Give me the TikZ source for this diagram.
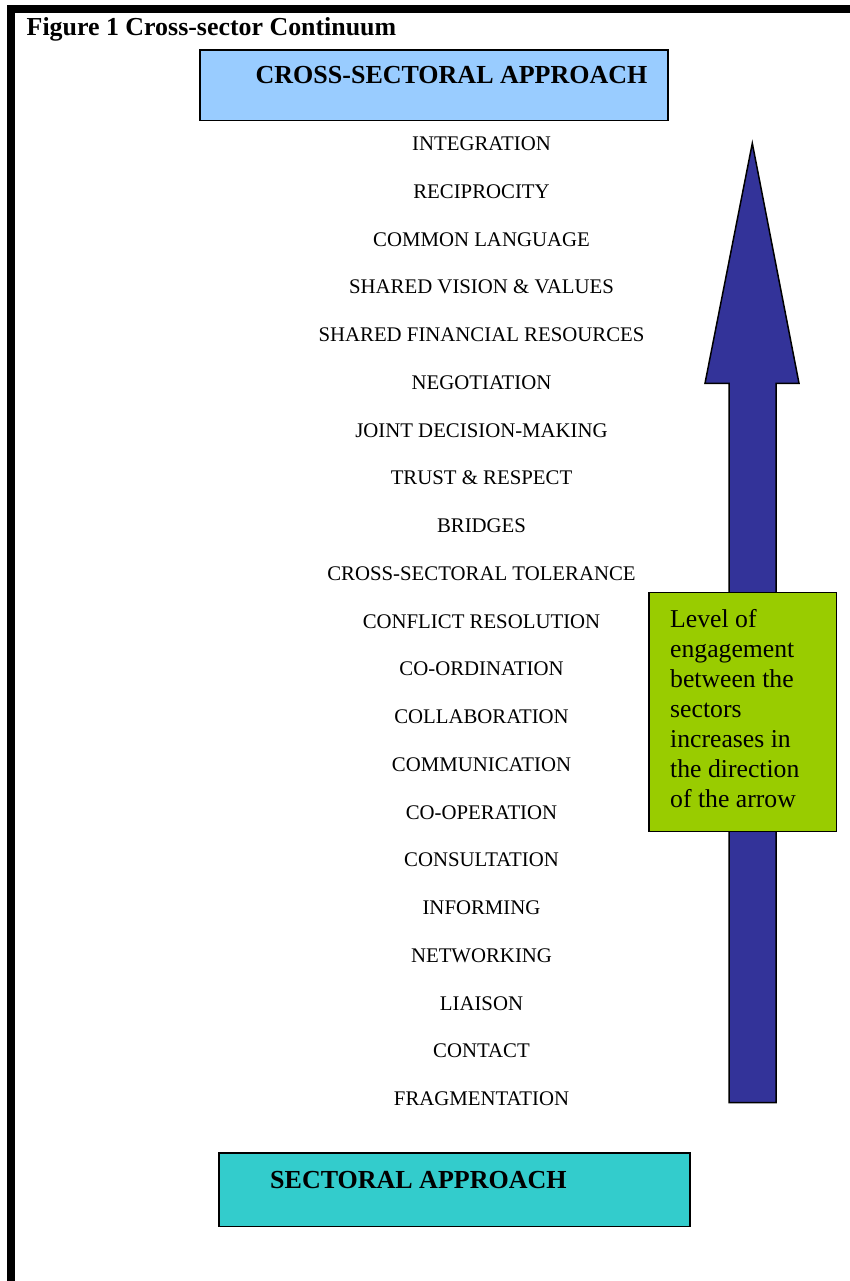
\documentclass[tikz,border=0pt]{standalone}
\usepackage{fontspec}
\setmainfont{Liberation Serif}
\definecolor{topblue}{HTML}{99CCFF}
\definecolor{arrowblue}{HTML}{333399}
\definecolor{notegreen}{HTML}{99CC00}
\definecolor{teal}{HTML}{33CCCC}
\tikzset{
  item/.style={anchor=base, inner sep=0pt, font=\fontsize{20.8}{24}\selectfont},
  heading/.style={anchor=base west, inner sep=0pt, font=\bfseries\fontsize{26}{30}\selectfont},
  boxframe/.style={draw=black, line width=1.5pt},
}
\begin{document}
\begin{tikzpicture}[x=1pt,y=-1pt]
\useasboundingbox (0,0) rectangle (850,1281);
% black frame
\fill[black] (7,5) rectangle (850,13);
\fill[black] (7,5) rectangle (15,1281);
% title
\node[anchor=base west, inner sep=0pt, font=\bfseries\fontsize{25.9}{30}\selectfont] (title) at (26.5,36) {Figure 1 Cross-sector Continuum};
% top box
\draw[boxframe, fill=topblue] (200,50) rectangle (668,120.5);
\node[heading] (top) at (255.5,84) {CROSS-SECTORAL APPROACH};
% bottom box
\draw[boxframe, fill=teal] (219,1153) rectangle (690,1226.5);
\node[heading] (bottom) at (270,1188) {SECTORAL APPROACH};
% arrow
\draw[line width=1.5pt, fill=arrowblue, line join=miter]
  (752.3,143.3) -- (799,383.3) -- (776,383.3) -- (776,1102.7) -- (729,1102.7) -- (729,383.3) -- (705,383.3) -- cycle;
% note box
\draw[boxframe, fill=notegreen] (649,592.3) rectangle (836.7,831.7);
\node[anchor=north west, inner sep=0pt, align=left, font=\fontsize{25.7}{30}\selectfont] (note) at (670,609.5)
  {Level of\\engagement\\between the\\sectors\\increases in\\the direction\\of the arrow};
% list
\foreach \t [count=\i from 0] in {INTEGRATION,RECIPROCITY,COMMON LANGUAGE,SHARED VISION \& VALUES,SHARED FINANCIAL RESOURCES,NEGOTIATION,JOINT DECISION-MAKING,TRUST \& RESPECT,BRIDGES,CROSS-SECTORAL TOLERANCE,CONFLICT RESOLUTION,CO-ORDINATION,COLLABORATION,COMMUNICATION,CO-OPERATION,CONSULTATION,INFORMING,NETWORKING,LIAISON,CONTACT,FRAGMENTATION}
  \node[item] (l\i) at (481.5,{150.7+47.75*\i}) {\t};
\end{tikzpicture}
\end{document}
